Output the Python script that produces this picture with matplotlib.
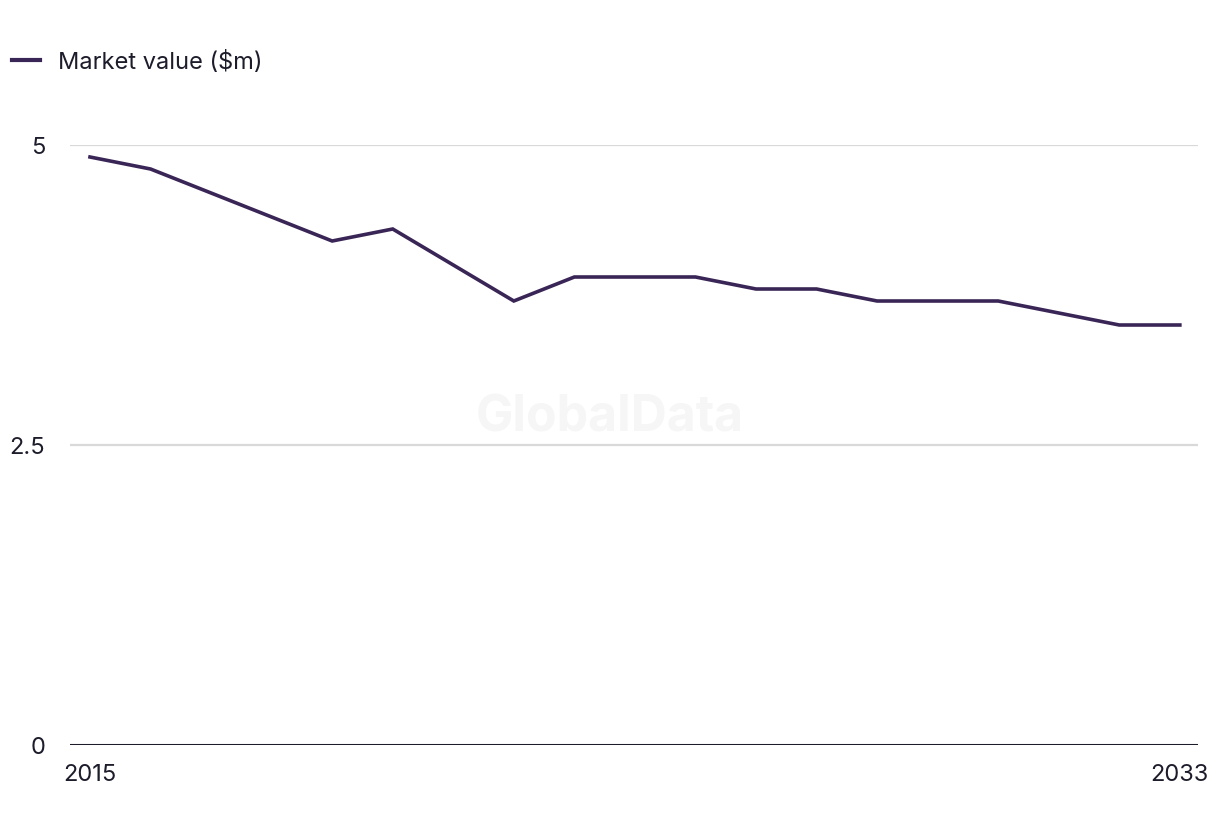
import matplotlib.pyplot as plt
from matplotlib.lines import Line2D

years = list(range(2015, 2034))
market_value = [4.9, 4.8, 4.6, 4.4, 4.2, 4.3, 4.0, 3.7, 3.9, 3.9,
                3.9, 3.8, 3.8, 3.7, 3.7, 3.7, 3.6, 3.5, 3.5]
y_ticks = [0, 2.5, 5]
y_labels = ['0', '2.5', '5']
x_ticks = [2015, 2033]

plt.rcParams['font.family'] = ['Inter', 'DejaVu Sans']

line_color = '#3a2656'
text_color = '#1c1c2b'

W, H = 1220, 836
fig = plt.figure(figsize=(W / 100, H / 100), dpi=100)
ax = fig.add_axes([70 / W, 1 - 745 / H, (1198 - 70) / W, (745 - 145) / H])

ax.plot(years, market_value, color=line_color, lw=2.6, clip_on=False,
        solid_joinstyle='miter', zorder=3)

ax.set_xlim(2014.67, 2033.3)
ax.set_ylim(0, 5)
ax.set_yticks(y_ticks)
ax.set_yticklabels(y_labels)
ax.set_xticks(x_ticks)
ax.set_xticklabels([str(x) for x in x_ticks])
ax.tick_params(axis='both', length=0, labelsize=17, colors=text_color)
ax.tick_params(axis='y', pad=18)
ax.tick_params(axis='x', pad=14)

for t in y_ticks[1:]:
    ax.axhline(t, color='#d9d9d9', lw=1.6, zorder=1)
ax.axhline(0, color=text_color, lw=2.2, zorder=2)

for s in ax.spines.values():
    s.set_visible(False)

ax.text(0.479, 0.545, 'GlobalData', transform=ax.transAxes, ha='center',
        va='center', fontsize=36, fontweight='bold', color='#f6f6f6', zorder=0)

handle = Line2D([], [], color=line_color, lw=3)
fig.legend([handle], ['Market value ($m)'], loc='center left',
           bbox_to_anchor=(0.002, 1 - 62 / H), frameon=False, fontsize=17,
           handlelength=1.2, handletextpad=0.75, labelcolor=text_color,
           borderaxespad=0.1, borderpad=0.3)

fig.savefig('out.png', dpi=100, facecolor='white')
